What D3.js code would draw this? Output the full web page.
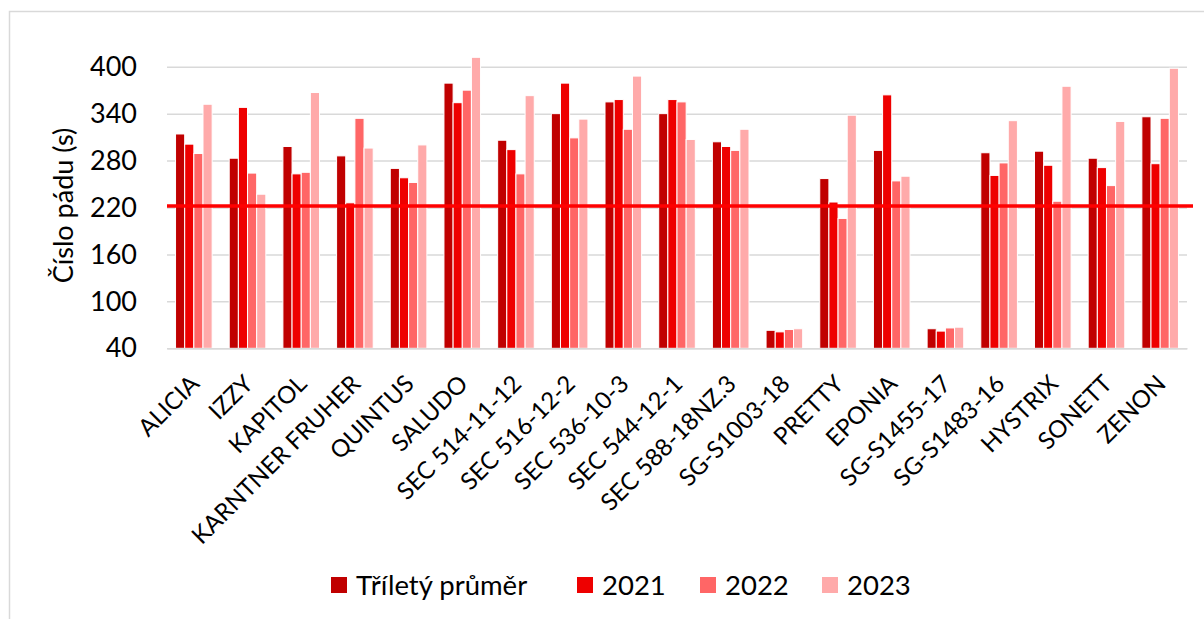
<!DOCTYPE html>
<html>
<head>
<meta charset="utf-8">
<script src="https://cdn.jsdelivr.net/npm/d3@7"></script>
<style>
  html, body { margin: 0; padding: 0; background: #fff; }
  svg { display: block; }
  text { font-family: Lato, "Open Sans", sans-serif; fill: #000; }
</style>
</head>
<body>
<svg id="chart" width="1204" height="619"></svg>
<script>
const categories = ["ALICIA","IZZY","KAPITOL","KARNTNER FRUHER","QUINTUS","SALUDO","SEC 514-11-12","SEC 516-12-2","SEC 536-10-3","SEC 544-12-1","SEC 588-18NZ.3","SG-S1003-18","PRETTY","EPONIA","SG-S1455-17","SG-S1483-16","HYSTRIX","SONETT","ZENON"];
const seriesNames = ["Tříletý průměr","2021","2022","2023"];
const avg3  = [314,283,298,286,270,379,306,340,355,340,304,63,257,293,65,290,292,283,336];
const y2021 = [301,348,263,226,258,354,294,379,358,358,298,61,227,364,62,261,274,271,276];
const y2022 = [289,264,265,334,252,370,263,309,320,355,293,64,206,254,66,277,228,248,334];
const y2023 = [352,237,367,296,300,412,363,333,388,307,320,65,338,260,67,331,375,330,398];
const referenceValue = [222];
const yTicks = [40,100,160,220,280,340,400];
const yTitle = "Číslo pádu (s)";
const colors = ["#C00000","#EE0000","#FF6666","#FFAAAA"];

const allSeries = [avg3, y2021, y2022, y2023];
const data = categories.map((c, i) => ({cat: c, vals: seriesNames.map((s, j) => ({s, v: allSeries[j][i]}))}));

const svg = d3.select("#chart");

// outer frame
svg.append("rect").attr("x", 9.5).attr("y", 11.5).attr("width", 1240).attr("height", 660)
  .attr("fill", "none").attr("stroke", "#d9d9d9").attr("stroke-width", 1.5);

const plotL = 167, plotR = 1187, plotT = 66.7, plotB = 348.3;
const y = d3.scaleLinear().domain([40, 400]).range([plotB, plotT]);
const x0 = d3.scaleBand().domain(categories).range([plotL, plotR]).paddingInner(0.318).paddingOuter(0.159);
const x1 = d3.scaleBand().domain(seriesNames).range([0, x0.bandwidth()]);
const color = d3.scaleOrdinal().domain(seriesNames).range(colors);

// gridlines
const grid = svg.append("g").attr("transform", `translate(${plotL},0)`)
  .call(d3.axisLeft(y).tickValues(yTicks).tickSize(-(plotR - plotL)).tickFormat(""));
grid.select(".domain").remove();
grid.selectAll("line").attr("stroke", "#d9d9d9").attr("stroke-width", 1.5);

// y tick labels
const yAxis = svg.append("g").attr("transform", `translate(${plotL - 30},0)`)
  .call(d3.axisLeft(y).tickValues(yTicks).tickSize(0).tickPadding(0));
yAxis.select(".domain").remove();
yAxis.selectAll("text").attr("font-size", 27).attr("font-family", "Lato").attr("fill", "#000");

// y title
svg.append("text").attr("transform", `translate(73,${(plotT + plotB) / 2 - 2}) rotate(-90)`)
  .attr("text-anchor", "middle").attr("font-size", 27).text(yTitle);

// bars
const groups = svg.append("g").selectAll("g").data(data).join("g")
  .attr("transform", d => `translate(${x0(d.cat)},0)`);
groups.selectAll("rect").data(d => d.vals).join("rect")
  .attr("x", d => x1(d.s))
  .attr("width", x1.bandwidth())
  .attr("y", d => y(d.v))
  .attr("height", d => y(40) - y(d.v))
  .attr("fill", d => color(d.s))
  .attr("stroke", "#fff").attr("stroke-width", 1);

// x axis
const xAxis = svg.append("g").attr("transform", `translate(0,${plotB})`)
  .call(d3.axisBottom(x0).tickSize(0).tickPadding(0));
xAxis.select(".domain").attr("stroke", "#d9d9d9").attr("stroke-width", 1.5);
xAxis.selectAll(".tick text")
  .attr("font-size", 24).attr("font-family", "Lato").attr("fill", "#000")
  .attr("text-anchor", "end")
  .attr("x", 0).attr("y", 0).attr("dy", null)
  .attr("transform", "translate(7,37) rotate(-45)");

// reference line
svg.append("g").selectAll("line").data(referenceValue).join("line")
  .attr("x1", plotL).attr("x2", plotR + 6)
  .attr("y1", d => y(d)).attr("y2", d => y(d))
  .attr("stroke", "#FF0000").attr("stroke-width", 3.5);

// legend
const legendX = [331, 577, 700, 822];
const leg = svg.append("g").selectAll("g").data(seriesNames).join("g")
  .attr("transform", (d, i) => `translate(${legendX[i]},585)`);
leg.append("rect").attr("x", 0).attr("y", -8).attr("width", 16).attr("height", 16)
  .attr("fill", d => color(d));
leg.append("text").attr("x", 25).attr("y", 0).attr("dy", "0.36em")
  .attr("font-size", 27.5).text(d => d);
</script>
</body>
</html>
